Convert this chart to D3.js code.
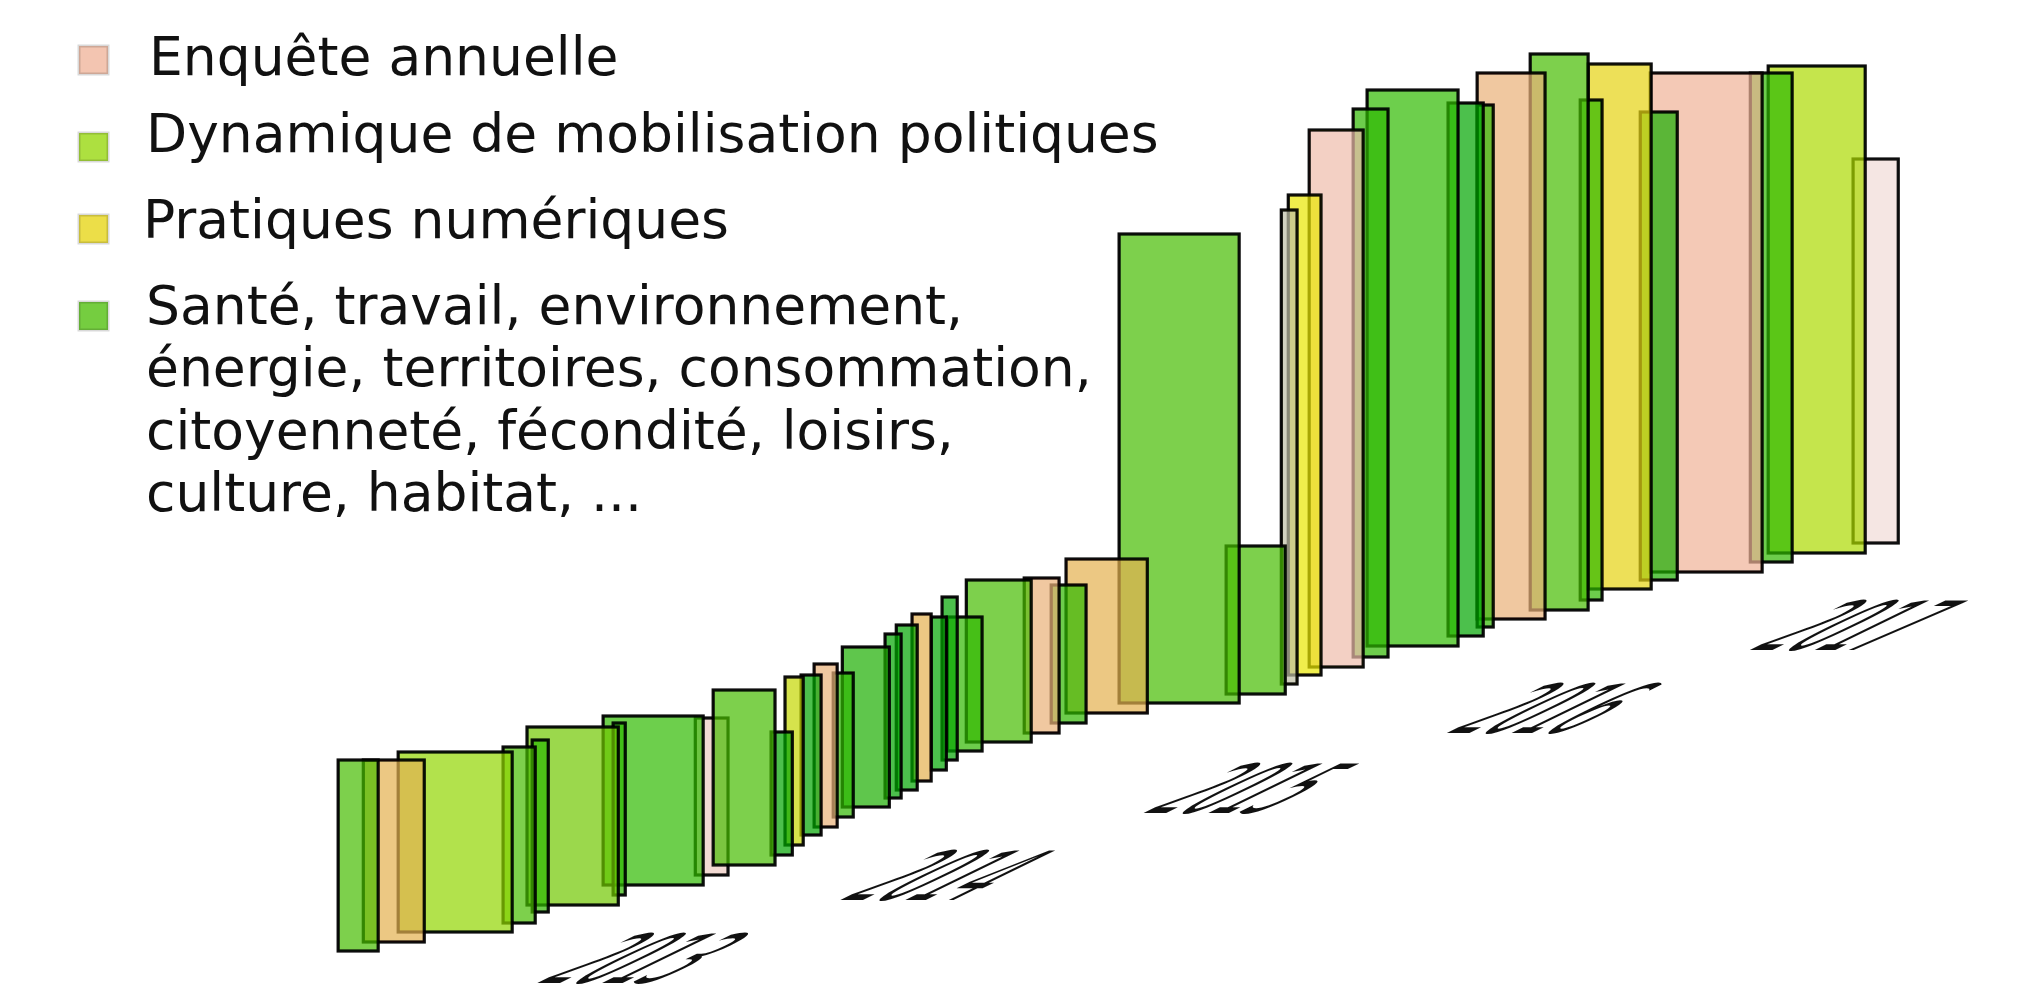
<!DOCTYPE html>
<html>
<head>
<meta charset="utf-8">
<script src="https://cdn.jsdelivr.net/npm/d3@7/dist/d3.min.js"></script>
<style>
  html, body { margin: 0; background: #fff; }
  text { font-family: "DejaVu Sans", sans-serif; fill: #111; }
</style>
</head>
<body>
<svg id="chart" width="2017" height="1000"></svg>
<script>
"use strict";

// Legend
const legendThemes = ["Enquête annuelle", "Dynamique de mobilisation politiques", "Pratiques numériques", "Santé, travail, environnement,"];
const legendTones = ["saumon", "citron", "jaune", "herbe"];
const legendExtraLines = ["énergie, territoires, consommation,", "citoyenneté, fécondité, loisirs,", "culture, habitat, ..."];

// Years on the ground line, and how high their label sits
const years = [2013, 2014, 2015, 2016, 2017];
const yearLevels = [1.7, 10, 18.7, 26.7, 35];

// Projects, front to back: time span in years, extent on the projected vertical
const barStart = [2011.984, 2012.067, 2012.182, 2012.528, 2012.624, 2012.607, 2012.891, 2012.858, 2013.221, 2013.162, 2013.412,
  2013.458, 2013.511, 2013.554, 2013.617, 2013.647, 2013.788, 2013.825, 2013.877, 2013.940, 2013.976, 2013.993,
  2014.056, 2014.247, 2014.336, 2014.385, 2014.560, 2014.913, 2015.095, 2015.118, 2015.187, 2015.332, 2015.378,
  2015.645, 2015.741, 2015.741, 2015.916, 2016.081, 2016.107, 2016.279, 2016.312, 2016.642, 2016.701, 2016.981];
const barEnd = [2012.116, 2012.268, 2012.558, 2012.634, 2012.677, 2012.908, 2012.931, 2013.188, 2013.425, 2013.270, 2013.482,
  2013.518, 2013.577, 2013.630, 2013.683, 2013.802, 2013.841, 2013.894, 2013.940, 2013.990, 2014.026, 2014.108,
  2014.270, 2014.362, 2014.451, 2014.653, 2014.956, 2015.108, 2015.147, 2015.226, 2015.365, 2015.447, 2015.678,
  2015.761, 2015.794, 2015.965, 2016.107, 2016.153, 2016.315, 2016.401, 2016.681, 2016.780, 2017.021, 2017.130];
const barLow = [4.9, 5.8, 6.8, 7.7, 8.8, 9.5, 10.5, 11.5, 13.5, 12.5, 14.5,
  15.5, 16.5, 17.3, 18.3, 19.3, 20.2, 21.0, 21.9, 23.0, 24.0, 24.9,
  25.8, 26.7, 27.7, 28.7, 29.7, 30.6, 31.6, 32.5, 33.3, 34.3, 35.4,
  36.4, 37.3, 38.1, 39.0, 40.0, 41.1, 42.0, 42.8, 43.8, 44.7, 45.7];
const barHigh = [24, 24, 24.8, 25.3, 26, 27.3, 27.7, 28.4, 31, 28.2, 26.8,
  32.3, 32.5, 33.6, 32.7, 35.3, 36.6, 37.5, 38.6, 38.3, 40.3, 38.3,
  42, 42.2, 41.5, 44.1, 76.6, 45.4, 79, 80.5, 87, 89.1, 91,
  89.7, 89.5, 92.7, 94.6, 90, 93.6, 88.8, 92.7, 92.7, 93.4, 84.1];
const barTone = ["herbe", "sable", "citron", "herbe", "vif", "tendre", "vif", "pre", "herbe", "pale", "foret",
  "acide", "foret", "orange", "vif", "mousse", "foret", "foret", "sable", "foret", "foret", "vif",
  "herbe", "orange", "vif", "sable", "herbe", "herbe", "gris", "citrine", "rose", "vif", "pre",
  "foret", "vif", "orange", "herbe", "vif", "jaune", "mousse", "saumon", "vif", "lime", "blanc"];

const tones = ["herbe", "pre", "mousse", "foret", "vif", "tendre", "citron", "lime", "sable", "orange", "rose", "saumon", "pale", "blanc", "gris", "jaune", "citrine", "acide"];
const toneColors = ["#47bc00", "#31ba00", "#1aae00", "#00a500", "#2cb800", "#70c700", "#91d500", "#acda00", "#e4b04e", "#eab077", "#eebcab", "#efb297", "#eecbc0", "#f1dbd7", "#bfbfa5", "#e5d30b", "#eae700", "#c5d700"];

const bars = barStart.map((d, i) => ({
  start: d,
  end: barEnd[i],
  low: barLow[i],
  high: barHigh[i],
  tone: barTone[i]
}));

const svg = d3.select("#chart");
const width = +svg.attr("width");
const height = +svg.attr("height");

const x = d3.scaleLinear().domain([2012, 2018]).range([343, 2162]);
const y = d3.scaleLinear().domain([0, 100]).range([height, 0]);
const tone = d3.scaleOrdinal(tones, toneColors);

const defs = svg.append("defs");
defs.append("filter").attr("id", "soft")
  .append("feGaussianBlur").attr("stdDeviation", 0.5);

// Bars, the oldest project painted last so it lies on top
svg.append("g")
  .attr("filter", "url(#soft)")
  .selectAll("rect")
  .data(bars.slice().reverse())
  .join("rect")
  .attr("x", d => x(d.start))
  .attr("y", d => y(d.high))
  .attr("width", d => x(d.end) - x(d.start))
  .attr("height", d => y(d.low) - y(d.high))
  .attr("fill", d => tone(d.tone))
  .attr("fill-opacity", 0.7)
  .attr("stroke", "#000")
  .attr("stroke-width", 3.2)
  .attr("stroke-opacity", 0.95);

// Sheared year labels
const yearLevel = d3.scaleOrdinal(years, yearLevels);
const xAxis = d3.axisBottom(x)
  .tickValues(years)
  .tickFormat(d3.format("d"))
  .tickSize(0);

const gX = svg.append("g").attr("class", "axis axis--x").call(xAxis);
gX.select(".domain").remove();
gX.attr("font-family", null).attr("font-size", null);
gX.selectAll("text")
  .attr("x", null)
  .attr("y", null)
  .attr("dy", null)
  .attr("text-anchor", "start")
  .attr("font-size", 68)
  .attr("font-family", "DejaVu Sans")
  .attr("fill", "#000")
  .attr("transform", d => "translate(-113," + y(yearLevel(d)) + ") skewX(-64) scale(0.72,1)");

// Legend
const legendRows = [40, 127, 209, 296];
const legendBaselines = [75, 152, 238, 324];
const legendLeft = [149, 146, 143, 146];

const legend = svg.append("g").attr("class", "legend");
legend.selectAll("rect")
  .data(legendThemes)
  .join("rect")
  .attr("x", 79)
  .attr("y", (d, i) => legendRows[i] + 6)
  .attr("width", 29)
  .attr("height", 28)
  .attr("fill", (d, i) => tone(legendTones[i]))
  .attr("fill-opacity", 0.75)
  .attr("stroke", "#000")
  .attr("stroke-opacity", 0.15)
  .attr("stroke-width", 3);

legend.selectAll("text.theme")
  .data(legendThemes)
  .join("text")
  .attr("class", "theme")
  .attr("x", (d, i) => legendLeft[i])
  .attr("y", (d, i) => legendBaselines[i])
  .attr("font-size", 53.5)
  .text(d => d);

legend.selectAll("text.more")
  .data(legendExtraLines)
  .join("text")
  .attr("class", "more")
  .attr("x", 146)
  .attr("y", (d, i) => 386 + i * 62.5)
  .attr("font-size", 53.5)
  .text(d => d);
</script>
</body>
</html>
